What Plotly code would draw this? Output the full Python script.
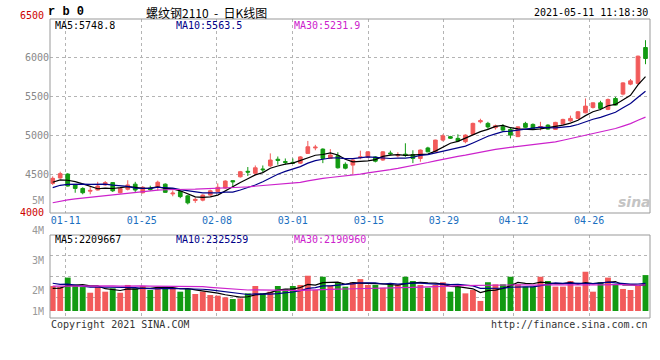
import plotly.graph_objects as go

# ---------------- data ----------------
tick_labels = ["01-11", "01-25", "02-08", "03-01", "03-15", "03-29", "04-12", "04-26"]

opens = [4380, 4450, 4500, 4360, 4315, 4280, 4295, 4360, 4390, 4260,
         4305, 4370, 4260, 4320, 4330, 4370, 4245, 4275, 4220, 4160,
         4165, 4230, 4275, 4320, 4415, 4465, 4535, 4510, 4565, 4605,
         4690, 4660, 4650, 4640, 4765, 4835, 4820, 4700, 4735, 4625,
         4615, 4710, 4715, 4720, 4680, 4770, 4735, 4755, 4750, 4700,
         4835, 4785, 4936, 4980, 4958, 4915, 5010, 5170, 5150, 5095,
         5107, 5073, 4980, 5150, 5137, 5100, 5128, 5073, 5141, 5183,
         5214, 5286, 5355, 5414, 5330, 5470, 5526, 5654, 5663, 6124]
highs = [4470, 4530, 4510, 4370, 4330, 4340, 4400, 4410, 4395, 4330,
         4420, 4400, 4345, 4350, 4415, 4380, 4290, 4285, 4230, 4200,
         4240, 4300, 4380, 4420, 4420, 4540, 4590, 4610, 4610, 4765,
         4725, 4700, 4700, 4730, 4925, 4875, 4830, 4820, 4780, 4650,
         4690, 4800, 4790, 4730, 4795, 4800, 4780, 4895, 4805, 4815,
         4850, 4940, 5010, 4990, 5010, 5010, 5160, 5210, 5170, 5135,
         5140, 5090, 5110, 5170, 5150, 5170, 5140, 5170, 5210, 5250,
         5310, 5470, 5420, 5440, 5470, 5490, 5680, 5720, 6020, 6218]
lows = [4360, 4440, 4340, 4260, 4240, 4240, 4290, 4350, 4270, 4250,
        4290, 4270, 4250, 4285, 4290, 4260, 4215, 4190, 4110, 4130,
        4150, 4220, 4270, 4310, 4340, 4455, 4475, 4485, 4520, 4590,
        4620, 4620, 4630, 4630, 4760, 4805, 4640, 4695, 4570, 4560,
        4500, 4690, 4705, 4650, 4670, 4740, 4715, 4720, 4640, 4658,
        4780, 4780, 4920, 4950, 4910, 4895, 5000, 5150, 5080, 5070,
        5050, 4958, 4975, 5090, 5080, 5060, 5070, 5065, 5135, 5170,
        5205, 5280, 5340, 5320, 5320, 5380, 5510, 5640, 5650, 5910]
closes = [4445, 4505, 4346, 4315, 4260, 4290, 4346, 4390, 4285, 4315,
          4360, 4295, 4330, 4300, 4395, 4265, 4255, 4210, 4130, 4175,
          4230, 4285, 4330, 4410, 4400, 4530, 4525, 4580, 4555, 4680,
          4675, 4650, 4640, 4720, 4850, 4845, 4700, 4745, 4580, 4575,
          4680, 4720, 4785, 4665, 4785, 4760, 4745, 4740, 4700, 4808,
          4785, 4936, 4990, 4960, 4925, 5000, 5150, 5185, 5105, 5120,
          5064, 5000, 5106, 5100, 5085, 5110, 5077, 5163, 5201, 5214,
          5299, 5372, 5414, 5342, 5457, 5385, 5670, 5696, 6013, 5983]
# closes of the 29 sessions before the window (only feed the moving averages)
prior_closes = [3880, 3900, 3920, 3950, 3960, 3980, 4000, 3990, 4010, 4030,
                4050, 4060, 4080, 4090, 4100, 4120, 4130, 4150, 4170, 4140,
                4200, 4230, 4260, 4290, 4300, 4350, 4370, 4400, 4405]

# volume, millions of lots
volumes = [2.19, 2.14, 2.59, 2.24, 2.14, 1.87, 2.14, 1.92, 2.08, 1.87,
           2.24, 2.08, 2.19, 2.00, 2.11, 2.16, 2.11, 1.92, 2.05, 1.81,
           1.92, 1.76, 1.73, 1.65, 1.57, 1.60, 1.84, 2.19, 1.84, 1.92,
           2.19, 2.05, 2.19, 2.24, 2.68, 2.00, 2.63, 2.21, 2.37, 2.16,
           2.37, 2.52, 2.24, 2.24, 2.11, 2.27, 2.27, 2.63, 2.43, 2.24,
           2.11, 2.24, 2.37, 1.92, 2.16, 1.84, 2.00, 1.48, 2.37, 2.27,
           2.27, 2.63, 2.27, 2.16, 2.16, 2.63, 2.43, 2.16, 2.16, 2.43,
           2.16, 2.87, 1.92, 2.37, 2.59, 2.27, 2.05, 2.00, 2.21, 2.71]
prior_volumes = [2.10, 2.30, 1.90, 2.20, 2.00, 2.40, 1.95, 2.10, 2.25, 1.90,
                 2.20, 2.05, 2.30, 2.10, 2.00, 2.35, 2.10, 2.15, 2.00, 2.11,
                 2.70, 2.40, 2.80, 2.50, 2.40, 2.10, 1.95, 2.20, 1.96]

title_code = "r b 0"
title_name = "螺纹钢2110 &nbsp;- &nbsp;日K线图"
stamp = "2021-05-11 11:18:30"
price_ma_text = ["MA5:5748.8", "MA10:5563.5", "MA30:5231.9"]
vol_ma_text = ["MA5:2209667", "MA10:2325259", "MA30:2190960"]
vol_labels = ["4M", "3M", "2M", "1M"]
price_ticks = [4500, 5000, 5500, 6000]

# ---------------- helpers ----------------
def sma(series, w):
    out = []
    for i in range(len(series)):
        out.append(sum(series[i + 1 - w:i + 1]) / w if i + 1 >= w else None)
    return out

def tail_ma(prior, vals, w):
    return sma(prior + vals, w)[len(prior):]

n = len(closes)
idx = list(range(n))
RED = "#F25A5A"
GREEN = "#129A12"
MA_COLORS = ["#000000", "#000088", "#CC22CC"]
up = [c >= o for o, c in zip(opens, closes)]
bar_colors = [RED if u else GREEN for u in up]

FW, FH = 660, 360
# plot area in page pixels: x 50..650, y 19..318
L, R, T, B = 50, 650, 19, 318
def px(x):
    return (x - L) / (R - L)
def py(y):
    return (B - y) / (B - T)

fig = go.Figure()

# price panel
fig.add_trace(go.Candlestick(
    x=idx, open=opens, high=highs, low=lows, close=closes,
    increasing=dict(line=dict(color=RED, width=1), fillcolor=RED),
    decreasing=dict(line=dict(color=GREEN, width=1), fillcolor=GREEN),
    whiskerwidth=0, showlegend=False, hoverinfo="skip",
    xaxis="x", yaxis="y"))
for w, col in zip([5, 10, 30], MA_COLORS):
    fig.add_trace(go.Scatter(x=idx, y=tail_ma(prior_closes, closes, w), mode="lines",
                             line=dict(color=col, width=1.2), showlegend=False,
                             hoverinfo="skip", xaxis="x", yaxis="y"))

# volume panel
VOL_BASE = 1.0
fig.add_trace(go.Bar(x=idx, y=[v - VOL_BASE for v in volumes], base=VOL_BASE,
                     marker=dict(color=bar_colors, line=dict(width=0)),
                     showlegend=False, hoverinfo="skip", xaxis="x2", yaxis="y2"))
for w, col in zip([5, 10, 30], MA_COLORS):
    fig.add_trace(go.Scatter(x=idx, y=tail_ma(prior_volumes, volumes, w), mode="lines",
                             line=dict(color=col, width=1.2), showlegend=False,
                             hoverinfo="skip", xaxis="x2", yaxis="y2"))

# ---------------- layout ----------------
XR = [-0.36, 79.6]
tick_pos = [1.73, 11.86, 21.89, 32.0, 42.14, 52.13, 61.42, 71.49]
VR = [0.667, 4.619]
vol_grid = [VR[0] + (VR[1] - VR[0]) * k / 4 for k in (1, 2, 3)]
MONO = "DejaVu Sans Mono"
GRID = "#B4B4B4"

fig.update_layout(
    width=FW, height=FH,
    margin=dict(l=L, r=FW - R, t=T, b=FH - B, pad=0),
    paper_bgcolor="white", plot_bgcolor="white",
    bargap=0.22,
    xaxis=dict(domain=[0, 1], anchor="y", range=XR, tickmode="array",
               tickvals=tick_pos, ticktext=tick_labels, showgrid=True,
               gridcolor=GRID, griddash="dot", gridwidth=1, zeroline=False,
               ticks="", tickfont=dict(family=MONO, size=10, color="#1A6FC0"),
               rangeslider=dict(visible=False), fixedrange=True),
    xaxis2=dict(domain=[0, 1], anchor="y2", matches="x", range=XR, tickmode="array",
                tickvals=tick_pos, showticklabels=False, showgrid=True,
                gridcolor=GRID, griddash="dot", gridwidth=1, zeroline=False, ticks=""),
    yaxis=dict(domain=[py(213), 1], range=[4000, 6490], tickmode="array",
               tickvals=price_ticks, ticktext=[str(t) for t in price_ticks],
               showgrid=True, gridcolor=GRID, griddash="dot", zeroline=False,
               ticks="", tickfont=dict(family=MONO, size=10, color="#888888")),
    yaxis2=dict(domain=[0, py(235)], range=VR, tickmode="array", tickvals=vol_grid,
                showticklabels=False, showgrid=True, gridcolor=GRID,
                griddash="dot", zeroline=False, ticks=""),
)

# panel borders
for top, bot in [(T, 213), (235, B)]:
    fig.add_shape(type="rect", xref="paper", yref="paper", x0=0, x1=1,
                  y0=py(bot), y1=py(top), line=dict(color="#999999", width=1),
                  fillcolor="rgba(0,0,0,0)", layer="above")

def text(x, y, s, color="#000000", size=10, family=MONO, xanchor="left", h=None):
    fig.add_annotation(x=px(x), y=py(y), xref="paper", yref="paper", text=s,
                       showarrow=False, xanchor=xanchor, yanchor="middle",
                       height=h if h else size + 1, borderpad=0,
                       font=dict(family=family, size=size, color=color))

# header
text(47, 12, "<b>" + title_code + "</b>", size=12, family="Liberation Mono", h=14)
text(206, 12, title_name, size=12, family="Noto Sans CJK SC", xanchor="center", h=14)
text(649, 12, stamp, size=10, xanchor="right")

# MA legends
for x0, s, col in zip([54, 175, 293], price_ma_text, MA_COLORS):
    text(x0, 25, s, color=col, h=10)
for x0, s, col in zip([54, 175, 293], vol_ma_text, MA_COLORS):
    text(x0, 239, s, color=col)

# extreme price labels and volume labels
text(45, 15, "6500", color="#CC0000", xanchor="right")
text(45, 212, "4000", color="#CC0000", xanchor="right")
text(45, 200, "5M", color="#999999", xanchor="right")
for y0, s in zip([230, 260, 290, 311], vol_labels):
    text(45, y0, s, color="#999999", xanchor="right")

# watermark & footer
text(634, 202, "<i><b>sina</b></i>", color="#C4C4C4", size=14,
     family="DejaVu Sans", xanchor="center", h=16)
text(50, 324, "Copyright 2021 SINA.COM", color="#333333")
text(649, 324, "http://finance.sina.com.cn", color="#333333", xanchor="right")

# the page body's default 8px margin would shift the figure; remove it
fig.write_html("out.html", config={"displayModeBar": False},
               post_script="document.body.style.margin='0';document.body.style.padding='0';")
